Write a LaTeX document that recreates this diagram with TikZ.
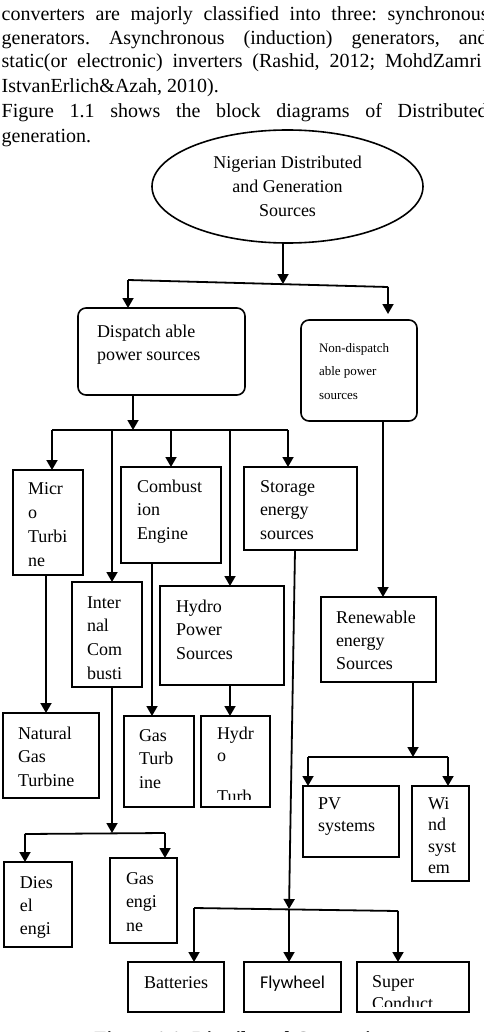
\documentclass[tikz,border=0pt]{standalone}
\usepackage{fontspec}
\setmainfont{Liberation Serif}
\newfontfamily\flyfont{Carlito}
\usetikzlibrary{arrows.meta,shapes.geometric,calc}
\frenchspacing
\newcommand\pfont{\fontsize{20}{24.4}\selectfont}
\newcommand\dfont{\fontsize{18}{23.5}\selectfont}
\newcommand\sfont{\fontsize{13}{23.5}\selectfont}
% #1 width, #2 height, #3 left pad, #4 first baseline, #5 baselineskip, #6 lines
\newcommand\tb[6]{\parbox[c][#2pt][t]{#1pt}{\leftskip=#3pt\rightskip=0pt plus 1fil\parindent=0pt\baselineskip=#5pt\relax\rule{0pt}{#4pt}#6\par}}
\tikzset{
  bx/.style={draw, line width=1.6pt, inner sep=0pt, outer sep=0pt, anchor=north west, font=\dfont},
  rbx/.style={bx, rounded corners=8pt},
  ln/.style={line width=1.8pt},
  arr/.style={line width=1.8pt, -{Triangle[width=11pt,length=10pt]}},
  ptext/.style={anchor=base west, inner sep=0pt, font=\pfont}
}
\begin{document}
\begin{tikzpicture}[x=1pt,y=-1pt]
\useasboundingbox (0,0) rectangle (483,1032);
\clip (0,0) rectangle (483,1032);
% paragraph text
\node[ptext] (p1) at (1.5,21) {\makebox[487pt][s]{converters are majorly classified into three: synchronous}};
\node[ptext] (p2) at (1.5,45) {\makebox[486pt][s]{generators. Asynchronous (induction) generators, and}};
\node[ptext] (p3) at (1.5,68) {\makebox[480pt][s]{static(or electronic) inverters (Rashid, 2012; MohdZamri}};
\node[ptext] (p4) at (1.5,93) {IstvanErlich\&Azah, 2010).};
\node[ptext] (p5) at (1.5,118) {\makebox[486pt][s]{Figure 1.1 shows the block diagrams of Distributed}};
\node[ptext] (p6) at (1.5,143) {generation.};
% root
\node[draw, ellipse, line width=1.6pt, minimum width=271pt, minimum height=113pt, inner sep=0pt, align=center, font=\fontsize{18}{24}\selectfont] (ell) at (287.5,186.5) {Nigerian Distributed\\and Generation\\Sources};
% boxes
\node[rbx] (disp) at (78,308) {\tb{167}{87}{19}{29}{23}{Dispatch able\par power sources}};
\node[rbx, font=\sfont] (nd) at (301,320) {\tb{116}{101}{18}{32}{23.5}{Non-dispatch\par able power\par sources}};
\node[bx] (mt) at (13,470) {\tb{70}{105}{15}{24}{24.3}{Micr\par o\par Turbi\par ne}};
\node[bx] (ce) at (121,467) {\tb{100}{96}{16}{25}{23.5}{Combust\par ion\par Engine}};
\node[bx] (st) at (244,467) {\tb{113}{83}{16}{25}{23.5}{Storage\par energy\par sources}};
\node[bx] (ic) at (72,582) {\tb{70}{105}{15}{26}{23.7}{Inter\par nal\par Com\par busti}};
\node[bx] (hp) at (160,586) {\tb{124}{99}{16}{26}{23.5}{Hydro\par Power\par Sources}};
\node[bx] (rn) at (321,597) {\tb{115}{85}{15}{26}{23}{Renewable\par energy\par Sources}};
\node[bx] (ngt) at (3,713) {\tb{96}{85}{15}{26}{23.5}{Natural\par Gas\par Turbine}};
\node[bx] (gt) at (124,716) {\tb{70}{91}{15}{25}{23.5}{Gas\par Turb\par ine}};
\node[bx] (ht) at (201,716) {\tb{69}{91}{16}{23}{22}{Hydr\par o}};
\begin{scope}
  \clip (ht.north west) rectangle ($(ht.south east)+(0,-8)$);
  \node[anchor=base west, inner sep=0pt, font=\dfont] (htt) at (217,802) {Turb};
\end{scope}
\node[bx] (pv) at (303,786) {\tb{96}{71}{15}{23}{22}{PV\par systems}};
\node[bx] (ws) at (412,786) {\tb{57}{95}{16}{23}{21.5}{Wi\par nd\par syst\par em}};
\node[bx] (de) at (4,862) {\tb{68}{85}{16}{26}{23}{Dies\par el\par engi}};
\node[bx] (ge) at (110,858) {\tb{67}{85}{16}{26}{23.5}{Gas\par engi\par ne}};
\node[bx] (bat) at (128,962) {\parbox[c][50pt][t]{96pt}{\centering\rule{0pt}{26pt}Batteries\par}};
\node[bx] (fly) at (244,962) {\parbox[c][50pt][t]{97pt}{\centering\flyfont\rule{0pt}{26pt}Flywheel\par}};
\node[bx] (sc) at (357,962) {\tb{112}{50}{15}{25}{22}{Super}};
\begin{scope}
  \clip (sc.north west) rectangle ($(sc.south east)+(0,-6)$);
  \node[anchor=base west, inner sep=0pt, font=\dfont] (sct) at (372,1009) {Conduct};
\end{scope}
% level 1 connectors
\coordinate (b1l) at (128,280);
\coordinate (b1r) at (388,287);
\coordinate (b1j) at (283,284);
\draw[ln] (b1l) -- (b1r);
\draw[arr] (b1j |- ell.south) -- (b1j);
\draw[arr] (b1l) -- (b1l |- disp.north);
\draw[arr] (b1r) -- ($(b1r |- nd.north)+(0,-6)$);
% dispatchable tree
\coordinate (b2j) at (133,430);
\coordinate (b2l) at (52,430);
\coordinate (b2a) at (112,430);
\coordinate (b2b) at (171,430);
\coordinate (b2c) at (230,430);
\coordinate (b2r) at (288,430);
\draw[ln] (b2l) -- (b2r);
\draw[arr] (b2j |- disp.south) -- (b2j);
\draw[arr] (b2l) -- (b2l |- mt.north);
\draw[arr] (b2a) -- (b2a |- ic.north);
\draw[arr] (b2b) -- (b2b |- ce.north);
\draw[arr] (b2c) -- (b2c |- hp.north);
\draw[arr] (b2r) -- (b2r |- st.north);
% second level
\coordinate (x46) at (46,0);
\coordinate (x152) at (152,0);
\coordinate (x295) at (295,0);
\coordinate (x383) at (383,0);
\draw[arr] (x46 |- mt.south) -- (x46 |- ngt.north);
\draw[arr] (x152 |- ce.south) -- (x152 |- gt.north);
\draw[arr] (b2c |- hp.south) -- (b2c |- ht.north);
% internal combustion branch
\coordinate (b3j) at (112,833);
\coordinate (b3l) at (25,834);
\coordinate (b3r) at (165,833);
\draw[ln] (b3l) -- (b3r);
\draw[arr] (b2a |- ic.south) -- (b3j);
\draw[arr] (b3l) -- (b3l |- de.north);
\draw[arr] (b3r) -- (b3r |- ge.north);
% storage branch
\coordinate (b4j) at (289,909);
\coordinate (b4l) at (194,908);
\coordinate (b4r) at (398,911);
\draw[ln] (b4l) -- (b4r);
\draw[arr] (x295 |- st.south) -- (b4j);
\draw[arr] (b4l) -- (b4l |- bat.north);
\draw[arr] (b4j) -- (b4j |- fly.north);
\draw[arr] (b4r) -- (b4r |- sc.north);
% non-dispatchable branch
\draw[arr] (x383 |- nd.south) -- (x383 |- rn.north);
\coordinate (b5j) at (413,757);
\coordinate (b5l) at (308,757);
\coordinate (b5r) at (448,757);
\draw[ln] (b5l) -- (b5r);
\draw[arr] (b5j |- rn.south) -- (b5j);
\draw[arr] (b5l) -- (b5l |- pv.north);
\draw[arr] (b5r) -- (b5r |- ws.north);
% caption (cut by the page edge)
\node[anchor=base, inner sep=0pt, font=\fontsize{20}{24}\selectfont\bfseries] (cap) at (243,1045) {Figure 1.1: Distributed Generation};
\end{tikzpicture}
\end{document}
